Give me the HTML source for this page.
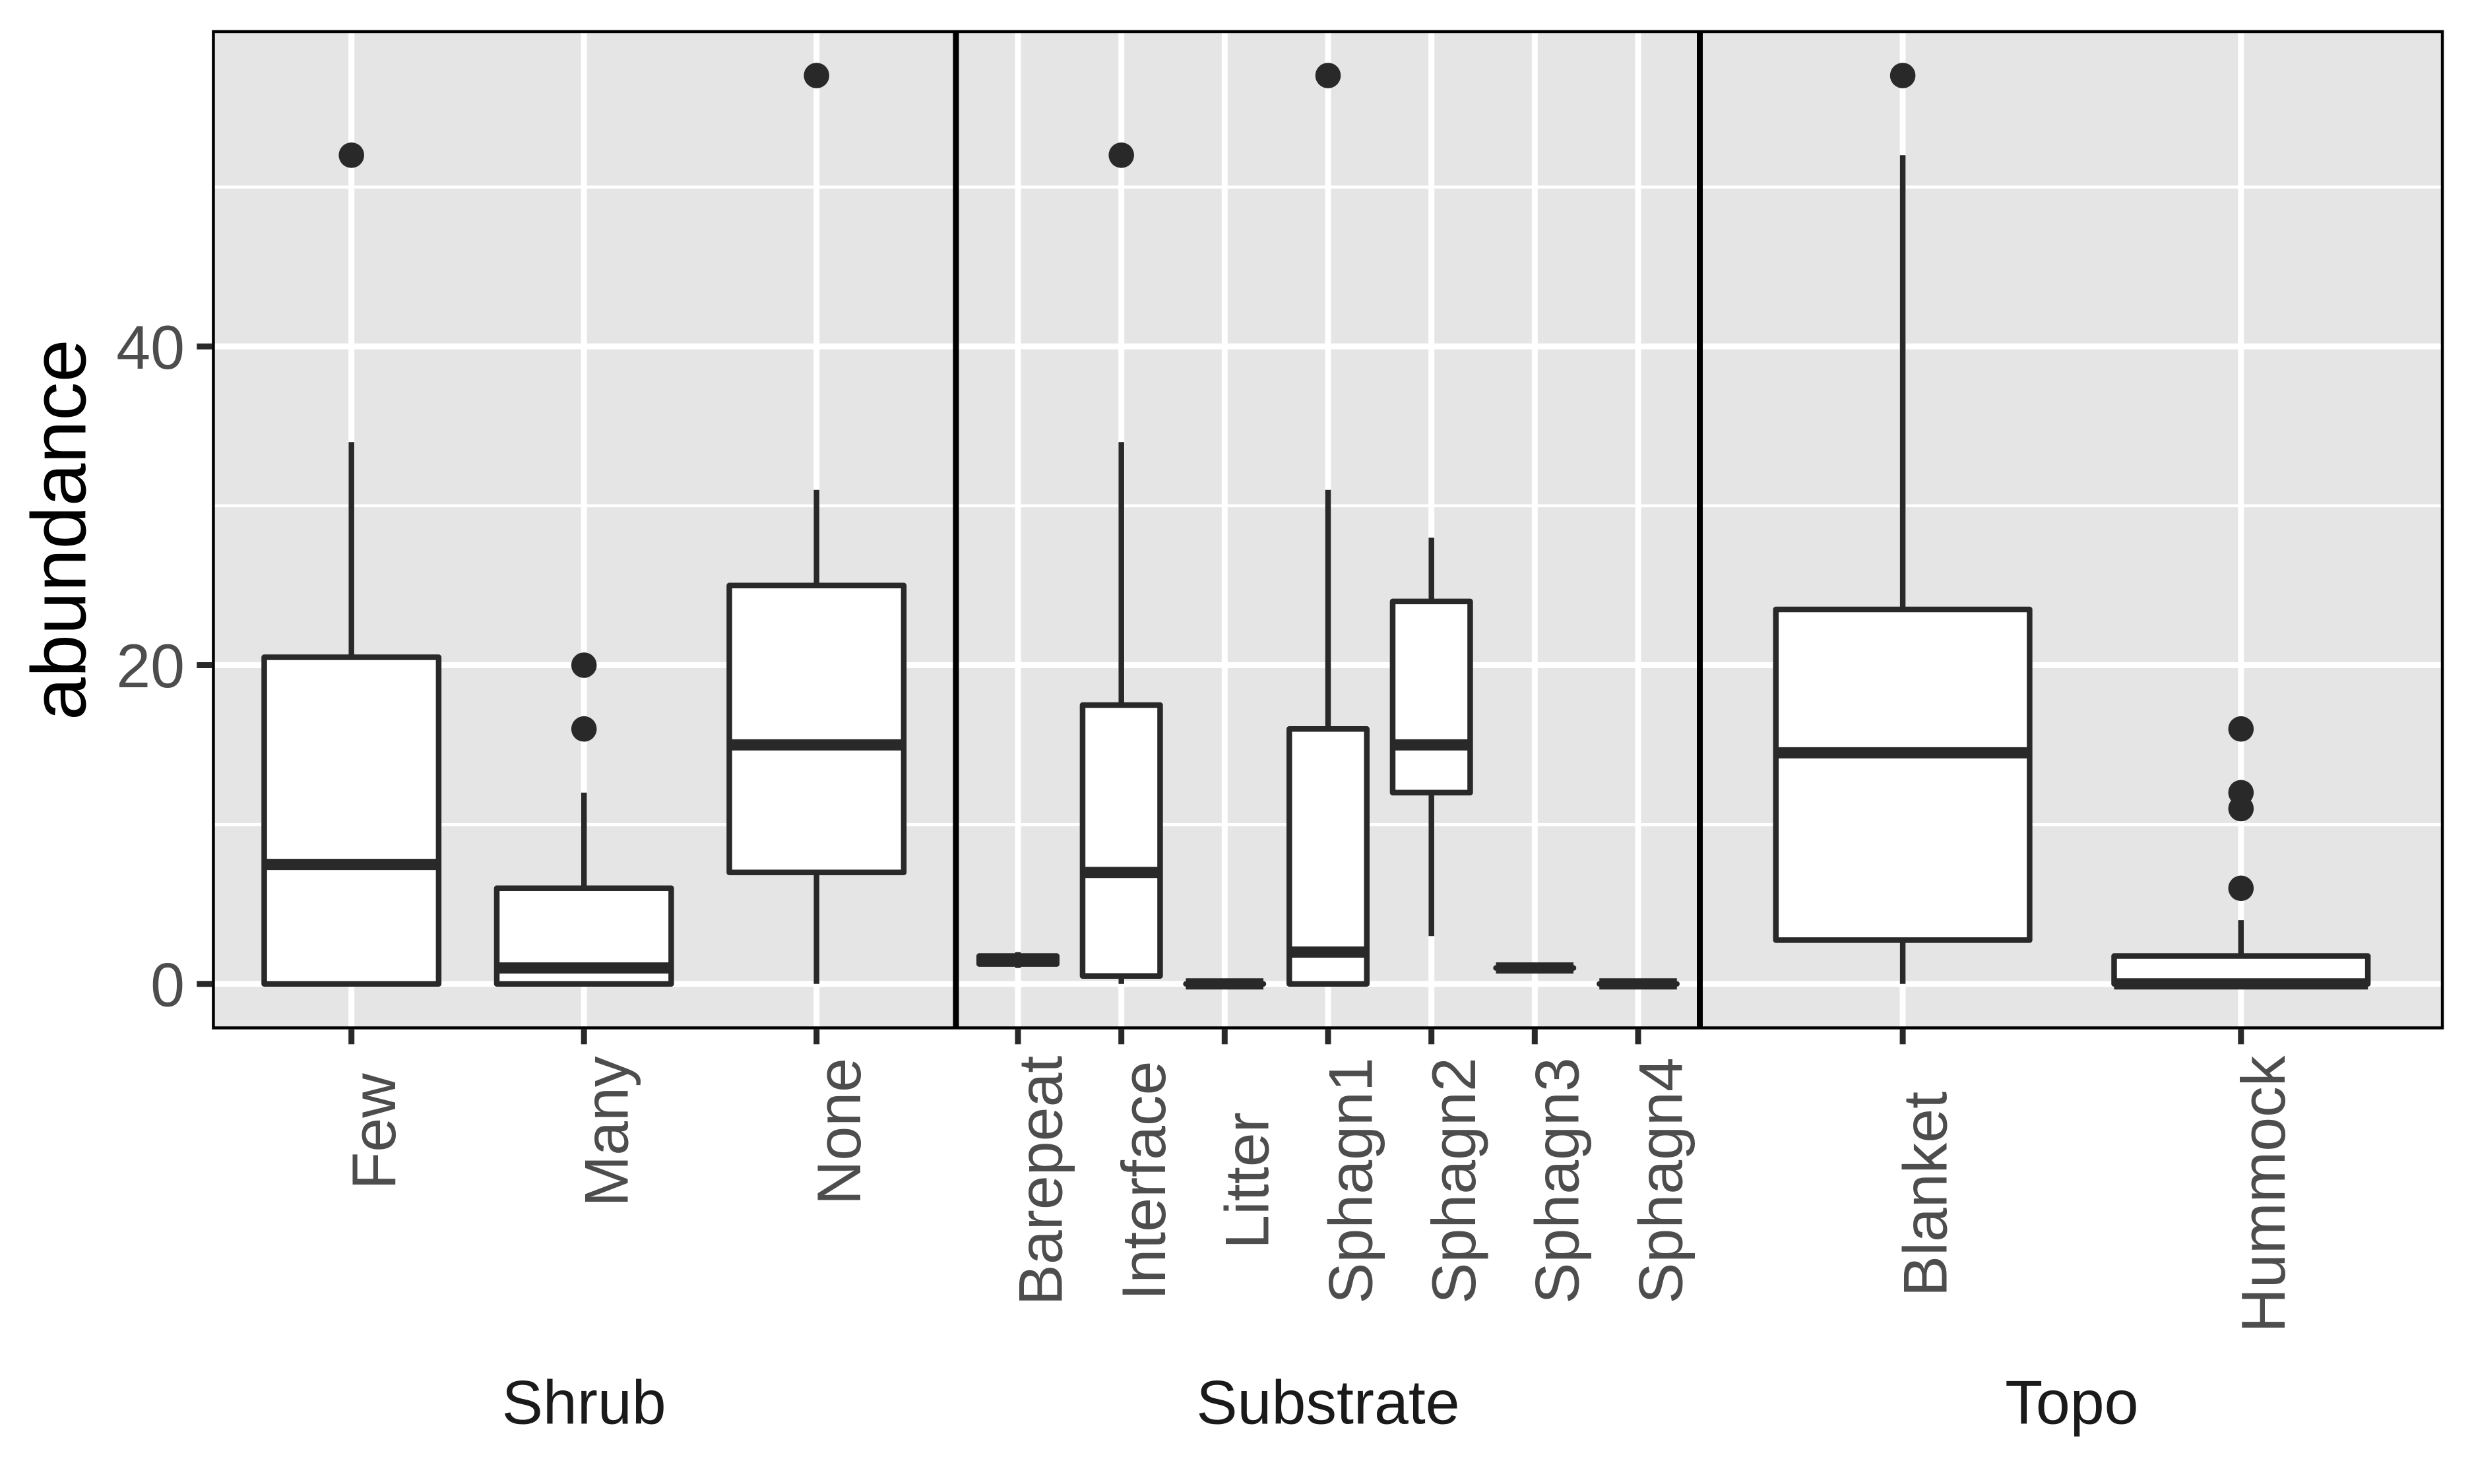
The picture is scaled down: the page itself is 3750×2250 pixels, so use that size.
<!DOCTYPE html>
<html>
<head>
<meta charset="utf-8">
<style>
html,body{margin:0;padding:0;background:#fff;}
svg{display:block;}
text{font-family:"Liberation Sans", Arial, sans-serif;}
</style>
</head>
<body>
<svg width="3750" height="2250" viewBox="0 0 3750 2250" xmlns="http://www.w3.org/2000/svg">
<rect x="0" y="0" width="3750" height="2250" fill="#ffffff"/>

<!-- Panel backgrounds -->
<rect x="321.2" y="45.7" width="1127.8" height="1515" fill="#E5E5E5"/>
<rect x="1449" y="45.7" width="1127.5" height="1515" fill="#E5E5E5"/>
<rect x="2576.5" y="45.7" width="1127.8" height="1515" fill="#E5E5E5"/>

<!-- Minor horizontal gridlines -->
<g stroke="#ffffff" stroke-width="4.5">
<line x1="321.2" x2="3704.3" y1="1250.2" y2="1250.2"/>
<line x1="321.2" x2="3704.3" y1="766.9" y2="766.9"/>
<line x1="321.2" x2="3704.3" y1="283.6" y2="283.6"/>
</g>
<!-- Major gridlines -->
<g stroke="#ffffff" stroke-width="9">
<line x1="321.2" x2="3704.3" y1="1491.8" y2="1491.8"/>
<line x1="321.2" x2="3704.3" y1="1008.5" y2="1008.5"/>
<line x1="321.2" x2="3704.3" y1="525.3" y2="525.3"/>
<line x1="532.7" x2="532.7" y1="45.7" y2="1560.7"/>
<line x1="885.2" x2="885.2" y1="45.7" y2="1560.7"/>
<line x1="1237.7" x2="1237.7" y1="45.7" y2="1560.7"/>
<line x1="1543" x2="1543" y1="45.7" y2="1560.7"/>
<line x1="1699.7" x2="1699.7" y1="45.7" y2="1560.7"/>
<line x1="1856.3" x2="1856.3" y1="45.7" y2="1560.7"/>
<line x1="2013" x2="2013" y1="45.7" y2="1560.7"/>
<line x1="2169.7" x2="2169.7" y1="45.7" y2="1560.7"/>
<line x1="2326.3" x2="2326.3" y1="45.7" y2="1560.7"/>
<line x1="2483" x2="2483" y1="45.7" y2="1560.7"/>
<line x1="2884.1" x2="2884.1" y1="45.7" y2="1560.7"/>
<line x1="3396.8" x2="3396.8" y1="45.7" y2="1560.7"/>
</g>

<!-- Whiskers -->
<g stroke="#292929" stroke-width="8.5" fill="none">
<line x1="532.7" x2="532.7" y1="670.3" y2="996.5"/>
<line x1="885.2" x2="885.2" y1="1201.8" y2="1346.8"/>
<line x1="1237.7" x2="1237.7" y1="742.7" y2="887.7"/>
<line x1="1237.7" x2="1237.7" y1="1322.7" y2="1491.8"/>
<line x1="1543" x2="1543" y1="1443.5" y2="1467.6"/>
<line x1="1699.7" x2="1699.7" y1="670.3" y2="1069"/>
<line x1="1699.7" x2="1699.7" y1="1479.7" y2="1491.8"/>
<line x1="2013" x2="2013" y1="742.7" y2="1105.2"/>
<line x1="2169.7" x2="2169.7" y1="815.2" y2="911.9"/>
<line x1="2169.7" x2="2169.7" y1="1201.8" y2="1419.3"/>
<line x1="2884.1" x2="2884.1" y1="235.3" y2="924"/>
<line x1="2884.1" x2="2884.1" y1="1425.4" y2="1491.8"/>
<line x1="3396.8" x2="3396.8" y1="1395.1" y2="1449.5"/>
</g>

<!-- Boxes -->
<g stroke="#292929" stroke-width="8.5" fill="#ffffff" stroke-linejoin="round">
<path d="M400.5 996.5 H664.9 V1491.8 H400.5 Z"/>
<path d="M753 1346.8 H1017.4 V1491.8 H753 Z"/>
<path d="M1105.5 887.7 H1369.9 V1322.7 H1105.5 Z"/>
<path d="M1484.25 1449.5 H1601.75 V1461.6 H1484.25 Z"/>
<path d="M1640.95 1069 H1758.45 V1479.7 H1640.95 Z"/>
<path d="M1797.55 1491.8 H1915.05 V1491.8 H1797.55 Z"/>
<path d="M1954.25 1105.2 H2071.75 V1491.8 H1954.25 Z"/>
<path d="M2110.95 911.9 H2228.45 V1201.8 H2110.95 Z"/>
<path d="M2267.55 1467.6 H2385.05 V1467.6 H2267.55 Z"/>
<path d="M2424.25 1491.8 H2541.75 V1491.8 H2424.25 Z"/>
<path d="M2691.8 924 H3076.4 V1425.4 H2691.8 Z"/>
<path d="M3204.5 1449.5 H3589.1 V1491.8 H3204.5 Z"/>
</g>

<!-- Medians -->
<g stroke="#292929" stroke-width="17" stroke-linecap="butt">
<line x1="400.5" x2="664.9" y1="1310.6" y2="1310.6"/>
<line x1="753" x2="1017.4" y1="1467.6" y2="1467.6"/>
<line x1="1105.5" x2="1369.9" y1="1129.4" y2="1129.4"/>
<line x1="1484.25" x2="1601.75" y1="1455.6" y2="1455.6"/>
<line x1="1640.95" x2="1758.45" y1="1322.7" y2="1322.7"/>
<line x1="1797.55" x2="1915.05" y1="1491.8" y2="1491.8"/>
<line x1="1954.25" x2="2071.75" y1="1443.5" y2="1443.5"/>
<line x1="2110.95" x2="2228.45" y1="1129.4" y2="1129.4"/>
<line x1="2267.55" x2="2385.05" y1="1467.6" y2="1467.6"/>
<line x1="2424.25" x2="2541.75" y1="1491.8" y2="1491.8"/>
<line x1="2691.8" x2="3076.4" y1="1141.4" y2="1141.4"/>
<line x1="3204.5" x2="3589.1" y1="1491.8" y2="1491.8"/>
</g>

<!-- Outliers -->
<g fill="#292929">
<circle cx="532.7" cy="235.3" r="19.3"/>
<circle cx="885.2" cy="1008.5" r="19.3"/>
<circle cx="885.2" cy="1105.2" r="19.3"/>
<circle cx="1237.7" cy="114.5" r="19.3"/>
<circle cx="1699.7" cy="235.3" r="19.3"/>
<circle cx="2013" cy="114.5" r="19.3"/>
<circle cx="2884.1" cy="114.5" r="19.3"/>
<circle cx="3396.8" cy="1105.2" r="19.3"/>
<circle cx="3396.8" cy="1201.8" r="19.3"/>
<circle cx="3396.8" cy="1226" r="19.3"/>
<circle cx="3396.8" cy="1346.8" r="19.3"/>
</g>

<!-- Panel borders (inner half visible) -->
<g fill="none" stroke="#000000" stroke-width="4.5">
<rect x="323.45" y="47.95" width="1123.3" height="1510.5"/>
<rect x="1451.25" y="47.95" width="1123" height="1510.5"/>
<rect x="2578.75" y="47.95" width="1123.3" height="1510.5"/>
</g>

<!-- Y ticks -->
<g stroke="#292929" stroke-width="9">
<line x1="298.3" x2="321.2" y1="1491.8" y2="1491.8"/>
<line x1="298.3" x2="321.2" y1="1008.5" y2="1008.5"/>
<line x1="298.3" x2="321.2" y1="525.3" y2="525.3"/>
</g>
<!-- X ticks -->
<g stroke="#292929" stroke-width="9">
<line x1="532.7" x2="532.7" y1="1560.7" y2="1583.3"/>
<line x1="885.2" x2="885.2" y1="1560.7" y2="1583.3"/>
<line x1="1237.7" x2="1237.7" y1="1560.7" y2="1583.3"/>
<line x1="1543" x2="1543" y1="1560.7" y2="1583.3"/>
<line x1="1699.7" x2="1699.7" y1="1560.7" y2="1583.3"/>
<line x1="1856.3" x2="1856.3" y1="1560.7" y2="1583.3"/>
<line x1="2013" x2="2013" y1="1560.7" y2="1583.3"/>
<line x1="2169.7" x2="2169.7" y1="1560.7" y2="1583.3"/>
<line x1="2326.3" x2="2326.3" y1="1560.7" y2="1583.3"/>
<line x1="2483" x2="2483" y1="1560.7" y2="1583.3"/>
<line x1="2884.1" x2="2884.1" y1="1560.7" y2="1583.3"/>
<line x1="3396.8" x2="3396.8" y1="1560.7" y2="1583.3"/>
</g>

<!-- Y tick labels -->
<g font-size="93.3" fill="#4D4D4D" text-anchor="end">
<text x="280" y="1525.3">0</text>
<text x="280" y="1042">20</text>
<text x="280" y="558.8">40</text>
</g>

<!-- Y axis title -->
<text transform="translate(129.3,803.2) rotate(-90)" text-anchor="middle" font-size="116.7" fill="#000000">abundance</text>

<!-- X tick labels (rotated) -->
<g font-size="93.3" fill="#4D4D4D" text-anchor="middle">
<text transform="translate(599,1715.5) rotate(-90)">Few</text>
<text transform="translate(951.5,1715.5) rotate(-90)">Many</text>
<text transform="translate(1304,1715.5) rotate(-90)">None</text>
<text transform="translate(1609.3,1790) rotate(-90)">Barepeat</text>
<text transform="translate(1766,1790) rotate(-90)">Interface</text>
<text transform="translate(1922.6,1790) rotate(-90)">Litter</text>
<text transform="translate(2079.3,1790) rotate(-90)">Sphagn1</text>
<text transform="translate(2236,1790) rotate(-90)">Sphagn2</text>
<text transform="translate(2392.6,1790) rotate(-90)">Sphagn3</text>
<text transform="translate(2549.3,1790) rotate(-90)">Sphagn4</text>
<text transform="translate(2950.4,1810.5) rotate(-90)">Blanket</text>
<text transform="translate(3463.1,1810.5) rotate(-90)">Hummock</text>
</g>

<!-- Strip labels -->
<g font-size="93.3" fill="#1A1A1A" text-anchor="middle">
<text x="885.2" y="2158.3">Shrub</text>
<text x="2013" y="2158.3">Substrate</text>
<text x="3140.4" y="2158.3">Topo</text>
</g>
</svg>
</body>
</html>
